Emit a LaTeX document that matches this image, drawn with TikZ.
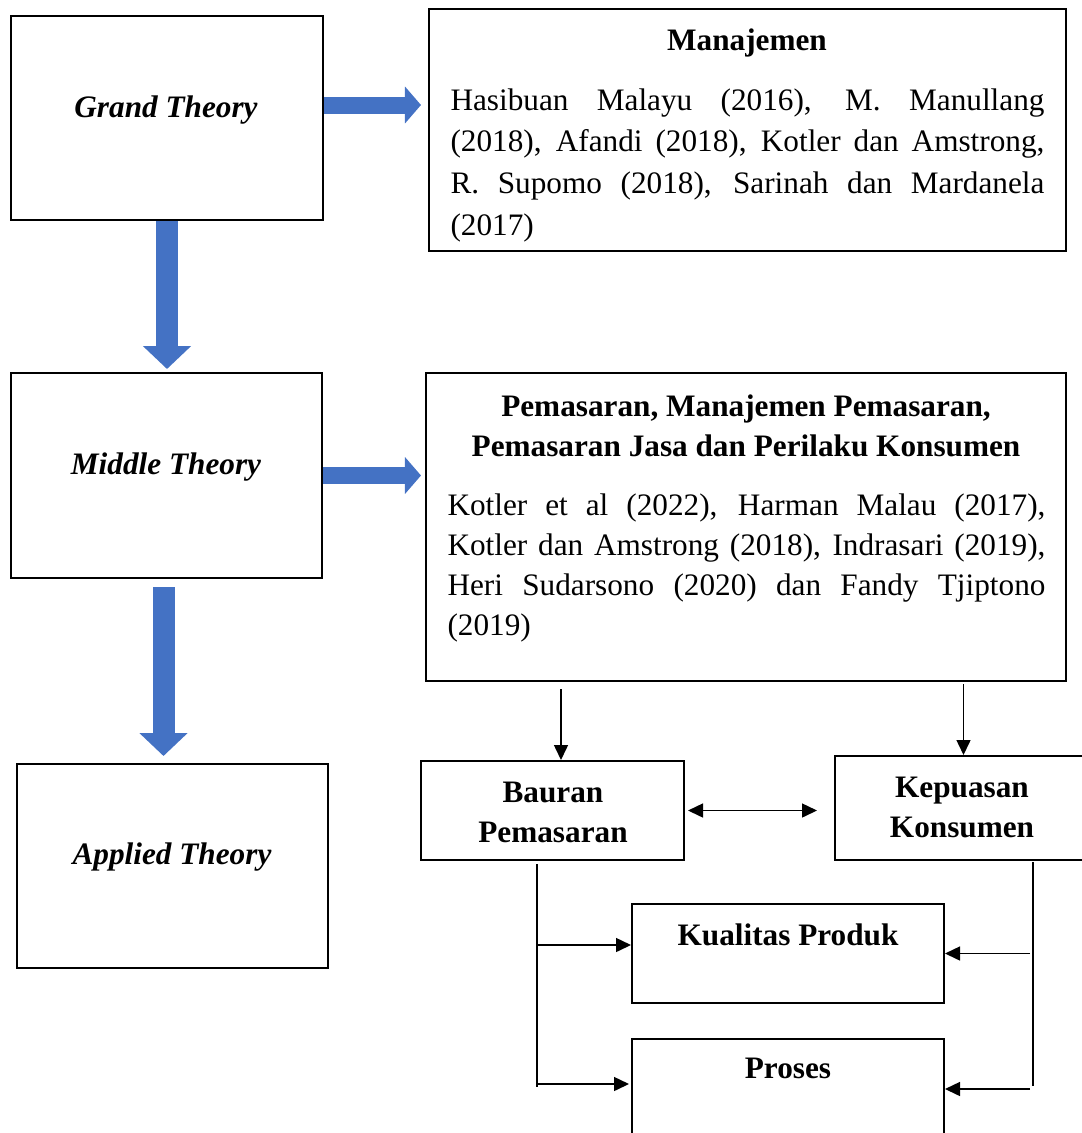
\documentclass[tikz,border=0pt]{standalone}
\usepackage{fontspec}
\setmainfont{Liberation Serif}
\usetikzlibrary{arrows.meta}
\definecolor{theoryblue}{RGB}{68,114,196}
\tikzset{
  box/.style={draw, line width=0.8pt, inner sep=0pt},
  theory/.style={anchor=base, font=\fontsize{12.5}{15}\selectfont\bfseries\itshape},
  head/.style={font=\fontsize{12.5}{16}\selectfont\bfseries},
  body/.style={inner sep=0pt, align=justify, anchor=north west},
  bigarrow/.style={theoryblue, line width=6.8pt, -{Triangle[width=14.4pt,length=6.4pt]}},
  downarrow/.style={theoryblue, line width=8.8pt, -{Triangle[width=18.8pt,length=9.2pt]}},
  link/.style={line width=0.6pt, -{Triangle[width=5.6pt,length=6pt]}},
  duallink/.style={line width=0.6pt, {Triangle[width=5.6pt,length=6pt]}-{Triangle[width=5.6pt,length=6pt]}},
  rail/.style={line width=0.8pt}
}
\begin{document}
\begin{tikzpicture}[x=0.4pt,y=-0.4pt]
  \useasboundingbox (0,0) rectangle (1081,1133);
  \node[box, minimum width=124.8pt, minimum height=81.6pt] (grand) at (167,118) {};
  \node[box, minimum width=254.8pt, minimum height=96.8pt] (manaj) at (747.5,130) {};
  \node[box, minimum width=124.4pt, minimum height=82pt] (middle) at (166.5,475.5) {};
  \node[box, minimum width=256pt, minimum height=123.2pt] (pemas) at (746,527) {};
  \node[box, minimum width=124.4pt, minimum height=81.6pt] (applied) at (172.5,866) {};
  \node[box, minimum width=105.2pt, minimum height=39.6pt] (bauran) at (552.5,810.5) {};
  \node[box, minimum width=102.8pt, minimum height=41.6pt] (kepuas) at (963.5,808) {};
  \node[box, minimum width=124.8pt, minimum height=39.6pt] (kualitas) at (788,953.5) {};
  \node[box, minimum width=124.8pt, minimum height=44.4pt] (proses) at (788,1094.5) {};

  \node[theory] (grandtxt) at (166,117) {Grand Theory};
  \node[theory] (middletxt) at (166,474) {Middle Theory};
  \node[theory] (appliedtxt) at (172,864) {Applied Theory};

  \node[head, anchor=base] (manajhead) at (747,50) {Manajemen};
  \node[body, text width=237.6pt, font=\fontsize{12.5}{16.7}\selectfont] (manajbody) at (450,88)
    {Hasibuan Malayu (2016), M. Manullang\linebreak (2018), Afandi (2018), Kotler dan Amstrong,\linebreak R. Supomo (2018), Sarinah dan Mardanela\linebreak (2017)};
  \node[head, align=center, anchor=north] (pemashead) at (746,386)
    {Pemasaran, Manajemen Pemasaran,\\Pemasaran Jasa dan Perilaku Konsumen};
  \node[body, text width=239.2pt, font=\fontsize{12.5}{16}\selectfont] (pemasbody) at (447,493)
    {Kotler et al (2022), Harman Malau (2017),\linebreak Kotler dan Amstrong (2018), Indrasari (2019),\linebreak Heri Sudarsono (2020) dan Fandy Tjiptono\linebreak (2019)};
  \node[head, align=center] (baurantxt) at (553,812) {Bauran\\Pemasaran};
  \node[head, align=center] (kepuastxt) at (962,807) {Kepuasan\\Konsumen};
  \node[head, anchor=base] (kualitastxt) at (788,945) {Kualitas Produk};
  \node[head, anchor=base] (prosestxt) at (788,1078) {Proses};

  \coordinate (grandout) at ([yshift=5.2pt]grand.east);
  \coordinate (middleout) at ([xshift=-1.2pt]middle.south);
  \draw[bigarrow, shorten >=2.8pt] (grandout) -- (grandout -| manaj.west);
  \draw[downarrow, shorten >=1.2pt] (grand.south) -- (grand.south |- middle.north);
  \draw[bigarrow, shorten >=1.6pt] (middle.east) -- (middle.east -| pemas.west);
  \draw[downarrow, shorten <=3.2pt, shorten >=2.8pt] (middleout) -- (middleout |- applied.north);

  \coordinate (bauranin) at ([xshift=3.4pt]bauran.north);
  \draw[link, shorten <=2.8pt] (bauranin |- pemas.south) -- (bauranin);
  \draw[link, shorten <=0.8pt] (kepuas.north |- pemas.south) -- (kepuas.north);
  \draw[duallink, shorten <=1.2pt, shorten >=6.8pt] (bauran.east) -- (bauran.east -| kepuas.west);

  \coordinate (bl1) at (537,864);
  \coordinate (bl2) at (537,1087);
  \coordinate (br1) at (1033,862);
  \coordinate (br2) at (1033,1086);
  \draw[rail] (bl1) -- (bl2);
  \draw[rail] (br1) -- (br2);
  \coordinate (kqin) at ([yshift=3.4pt]kualitas.west);
  \coordinate (prin) at ([yshift=4.2pt]proses.west);
  \coordinate (prout) at ([yshift=2.2pt]proses.east);
  \draw[link] (kqin -| bl1) -- (kqin);
  \draw[link, shorten >=0.8pt] (prin -| bl1) -- (prin);
  \draw[link, shorten <=1.2pt] (kualitas.east -| br1) -- (kualitas.east);
  \draw[link, shorten <=1.2pt] (prout -| br1) -- (prout);
\end{tikzpicture}
\end{document}
